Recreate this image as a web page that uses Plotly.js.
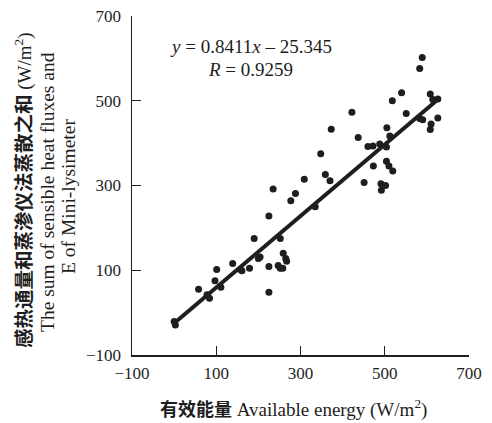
<!DOCTYPE html>
<html>
<head>
<meta charset="utf-8">
<script src="https://cdn.plot.ly/plotly-3.0.1.min.js"></script>
<style>html,body{margin:0;padding:0;background:#fff;}#chart{width:492px;height:423px;}</style>
</head>
<body>
<div id="chart"></div>
<script>
// Available energy (W/m2)
const availableEnergy = [0, 3, 58, 78, 84, 97, 101, 111, 139, 157, 161, 179, 190, 200, 204, 225, 225, 225, 235, 247, 252, 258, 252, 259, 265, 267, 277, 288, 309, 335, 348, 359, 370, 373, 422, 437, 451, 460, 472, 473, 488, 504, 505, 512, 491, 492, 502, 504, 510, 519, 518, 540, 551, 583, 589, 583, 590, 608, 614, 626, 626, 610, 608];
// Sum of sensible heat fluxes and E of Mini-lysimeter (W/m2)
const sumFluxes = [-21, -29, 55, 42, 34, 75, 102, 60, 116, 102, 99, 105, 175, 128, 131, 228, 109, 48, 292, 111, 105, 105, 175, 140, 128, 121, 264, 281, 315, 250, 375, 326, 311, 433, 473, 413, 307, 392, 393, 346, 398, 391, 436, 417, 304, 289, 300, 357, 346, 334, 500, 519, 470, 576, 602, 458, 455, 516, 503, 504, 459, 445, 432];
// Regression line end points
const fitX = [0, 626];
const fitY = [-25, 503];
const equationText = "<i>y</i> = 0.8411<i>x</i> – 25.345";
const rText = "<i>R</i> = 0.9259";
const xTitleCn = "有效能量";
const xTitleEn = " Available energy (W/m<sup>2</sup>)";
const yTitleCn = "感热通量和蒸渗仪法蒸散之和";
const yTitleUnit = " (W/m<sup>2</sup>)";
const yTitleEn2 = "The sum of sensible heat fluxes and";
const yTitleEn3 = "E of Mini-lysimeter";
const tickVals = [-100, 100, 300, 500, 700];

const ink = "#1e1e1e";
const fontFam = "Liberation Serif, Noto Sans CJK SC, serif";
const cjk = "Noto Sans CJK SC";

const traces = [
  {x: availableEnergy, y: sumFluxes, type: "scatter", mode: "markers",
   marker: {color: ink, size: 7}, hoverinfo: "x+y", cliponaxis: false},
  {x: fitX, y: fitY, type: "scatter", mode: "lines",
   line: {color: ink, width: 4}, hoverinfo: "skip"}
];

const plotLeft = 132, plotRight = 469, plotTop = 16, plotBottom = 355;
const pw = plotRight - plotLeft, ph = plotBottom - plotTop;
const pxX = p => (p - plotLeft) / pw;
const pxY = p => (plotBottom - p) / ph;

const cnSpan = (t, s) => `<span style="font-family:'${cjk}';font-size:${s}px;font-weight:bold">${t}</span>`;

const annotations = [
  {text: equationText, x: pxX(251), y: pxY(47), xref: "paper", yref: "paper", showarrow: false,
   font: {family: fontFam, size: 19, color: ink}, xanchor: "center", yanchor: "middle"},
  {text: rText, x: pxX(250), y: pxY(69), xref: "paper", yref: "paper", showarrow: false,
   font: {family: fontFam, size: 19, color: ink}, xanchor: "center", yanchor: "middle"},
  {text: cnSpan(xTitleCn, 18) + xTitleEn, x: pxX(293.5), y: pxY(408), xref: "paper", yref: "paper",
   showarrow: false, xanchor: "center", yanchor: "middle",
   font: {family: fontFam, size: 19, color: ink}},
  {text: cnSpan(yTitleCn, 19.5) + yTitleUnit, x: pxX(22), y: pxY(190), xref: "paper", yref: "paper",
   showarrow: false, textangle: -90, xanchor: "center", yanchor: "middle",
   font: {family: fontFam, size: 19, color: ink}},
  {text: yTitleEn2, x: pxX(47), y: pxY(192), xref: "paper", yref: "paper",
   showarrow: false, textangle: -90, xanchor: "center", yanchor: "middle",
   font: {family: fontFam, size: 19.5, color: ink}},
  {text: yTitleEn3, x: pxX(68), y: pxY(197), xref: "paper", yref: "paper",
   showarrow: false, textangle: -90, xanchor: "center", yanchor: "middle",
   font: {family: fontFam, size: 19.5, color: ink}}
];

const axisCommon = {range: [-100, 700], tickvals: tickVals, ticks: "inside", ticklen: 9, tickwidth: 1.2,
  tickcolor: ink, showline: true, linecolor: ink, linewidth: 1.5, showgrid: false, zeroline: false,
  tickfont: {family: fontFam, size: 17, color: ink}};

const layout = {
  width: 492, height: 423,
  margin: {l: plotLeft, r: 492 - plotRight, t: plotTop, b: 423 - plotBottom},
  paper_bgcolor: "#fff", plot_bgcolor: "#fff",
  showlegend: false,
  font: {family: fontFam, size: 17, color: ink},
  xaxis: Object.assign({}, axisCommon, {ticklabelstandoff: 2}),
  yaxis: Object.assign({}, axisCommon, {ticklabelstandoff: 6}),
  annotations: annotations
};

Plotly.newPlot("chart", traces, layout, {displayModeBar: false, staticPlot: true});
</script>
</body>
</html>
